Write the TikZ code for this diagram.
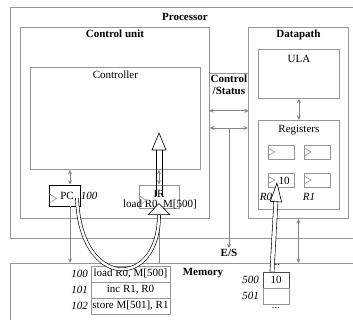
\documentclass[tikz,border=0pt]{standalone}
\usepackage{fontspec}
\setmainfont{Liberation Serif}
\usetikzlibrary{arrows.meta,positioning}
\definecolor{framegray}{RGB}{150,150,150}
\definecolor{busgray}{RGB}{135,135,135}

\tikzset{
  frame/.style={draw=framegray, line width=0.8pt, anchor=north west, inner sep=0pt},
  title/.style={font=\bfseries, inner sep=1pt},
  addr/.style={font=\itshape, inner sep=1pt},
  cell/.style={draw=framegray, line width=0.7pt, inner sep=0pt, minimum width=79pt, minimum height=16pt},
  regbox/.style={draw=framegray, line width=0.7pt, inner sep=0pt, minimum width=26pt, minimum height=14pt},
  clock/.style={draw=framegray, line width=0.6pt},
  bus/.style={draw=busgray, line width=0.8pt, {Stealth[length=4.5pt,width=4pt]}-{Stealth[length=4.5pt,width=4pt]}},
  busto/.style={draw=busgray, line width=0.8pt, -{Stealth[length=4.5pt,width=4pt]}},
  hollow/.style={draw=black, line width=0.6pt, double=white, double distance=3.5pt},
  hollowhead/.style={draw=black, line width=0.6pt, fill=white}
}

\begin{document}
\fontsize{11}{13}\selectfont
\begin{tikzpicture}[x=1pt,y=-1pt]
  \useasboundingbox (0,0) rectangle (353,320);
  % processor and memory outlines
  \draw[draw=framegray, line width=0.8pt] (353,7) -- (10,7) -- (10,238) -- (353,238);
  \draw[draw=framegray, line width=0.8pt] (353,263) -- (10,263) -- (10,320);
  \coordinate (memtop) at (10,263);
  \node[title] (proc) at (185,17) {Processor};
  \node[title] (mem) at (203,273) {Memory};
  \node[title] (es) at (229,253) {E/S};

  % control unit
  \node[frame, minimum width=189pt, minimum height=191pt] (cu) at (20,27) {};
  \node[title, below=2pt of cu.north] {Control unit};
  \node[frame, minimum width=170pt, minimum height=102pt] (ctrl) at (30,67) {};
  \node[below=3pt of ctrl.north, inner sep=1pt] {Controller};
  \node[draw=black, line width=0.7pt, inner sep=0pt, minimum width=31pt, minimum height=21pt] (pc) at (64.5,195.5) {};
  \node[inner sep=0pt] at (67,196) {PC};
  \node[addr] at (89,196) {100};
  \node[regbox, minimum width=40pt, minimum height=23pt] (ir) at (159,196.5) {};
  \node[inner sep=0pt] at (159,194) {IR};
  \node[inner sep=0pt] at (160,205) {load R0, M[500]};
  \draw[clock] ([yshift=2pt]pc.west) -- ++(8pt,-5pt) -- ++(-8pt,-5pt);
  \draw[clock] ([yshift=1pt]ir.west) -- ++(8pt,-5pt) -- ++(-8pt,-5pt);

  % control / status
  \node[frame, minimum width=39pt, minimum height=37pt] (cs) at (209,73) {};
  \node[title, align=center, inner sep=0pt, below=2pt of cs.north, font=\bfseries\linespread{0.9}\selectfont] {Control\\/Status};

  % datapath
  \node[frame, minimum width=100pt, minimum height=191pt] (dp) at (248,27) {};
  \node[title, below=2pt of dp.north] {Datapath};
  \node[frame, minimum width=81pt, minimum height=49pt] (ula) at (258,49) {};
  \node[below=5pt of ula.north, inner sep=1pt] {ULA};
  \node[frame, minimum width=81pt, minimum height=89pt] (regs) at (258,120) {};
  \node[below=4pt of regs.north, inner sep=1pt] {Registers};
  \node[regbox] (ra) at (281,152) {};
  \node[regbox] (rb) at (317.5,152) {};
  \node[regbox] (r0) at (281,180) {};
  \node[regbox] (r1) at (317.5,180) {};
  \foreach \r in {ra,rb,r0,r1}
    \draw[clock] ([yshift=4pt]\r.west) -- ++(7pt,-4pt) -- ++(-7pt,-4pt);
  \node[inner sep=0pt] at (284,181) {10};
  \node[addr] at (266,197) {R0};
  \node[addr] at (309,197) {R1};

  % memory contents
  \node[cell] (m100) at (130.5,274) {load R0, M[500]};
  \node[cell] (m101) at (130.5,290) {inc R1, R0};
  \node[cell] (m102) at (130.5,306) {store M[501], R1};
  \node[addr, anchor=east] at (89,274) {100};
  \node[addr, anchor=east] at (89,290) {101};
  \node[addr, anchor=east] at (89,306) {102};
  \node[cell, draw=black!70, minimum width=26pt] (m500) at (276,280) {10};
  \node[cell, minimum width=26pt] (m501) at (276,296) {};
  \node[addr, anchor=east] at (260,280) {500};
  \node[addr, anchor=east] at (260,296) {501};
  \node[inner sep=0pt] at (276,265) {...};
  \node[inner sep=0pt] at (276,308) {...};

  % buses
  \coordinate (pctap) at (70,200);
  \coordinate (esbus) at (229,128);
  \draw[bus] (ctrl.south -| pctap) -- (pc.north -| pctap);
  \draw[busto] (pc.south -| pctap) -- (pctap |- memtop);
  \draw[bus] (ctrl.south -| ir) -- (ir.north);
  \draw[draw=busgray, line width=0.8pt] (ir.south) -- (ir.south |- memtop);
  \draw[bus] (cs.south west) -- (cs.south east);
  \draw[bus] (cu.east |- esbus) -- (dp.west |- esbus);
  \draw[busto] (esbus) -- (es.north);
  \draw[bus] (ula.south) -- (regs.north);
  \draw[bus] (dp.south) -- (dp.south |- memtop);

  % instruction flow
  \coordinate (irtop) at (159,133);
  \coordinate (pcout) at (77,198);
  \coordinate (irin) at (159,203);
  \draw[line width=0.6pt] ([xshift=-3pt]ir.center) -- ([xshift=-3pt,yshift=-16pt]irtop)
    ([xshift=3pt]ir.center) -- ([xshift=3pt,yshift=-16pt]irtop);
  \draw[hollowhead] (irtop) -- ++(7pt,-17pt) -- ++(-14pt,0pt) -- cycle;
  \draw[hollow, double distance=2.5pt, -{Triangle[length=12pt,width=23pt,fill=white]}]
    (pcout) .. controls (80,290) and (159,290) .. (irin);
  \draw[hollow, -{Triangle[length=20pt,width=12pt,fill=white]}]
    ([xshift=-4pt]m500.north) -- ([xshift=-4pt,yshift=-2pt]r0.center);
\end{tikzpicture}
\end{document}
